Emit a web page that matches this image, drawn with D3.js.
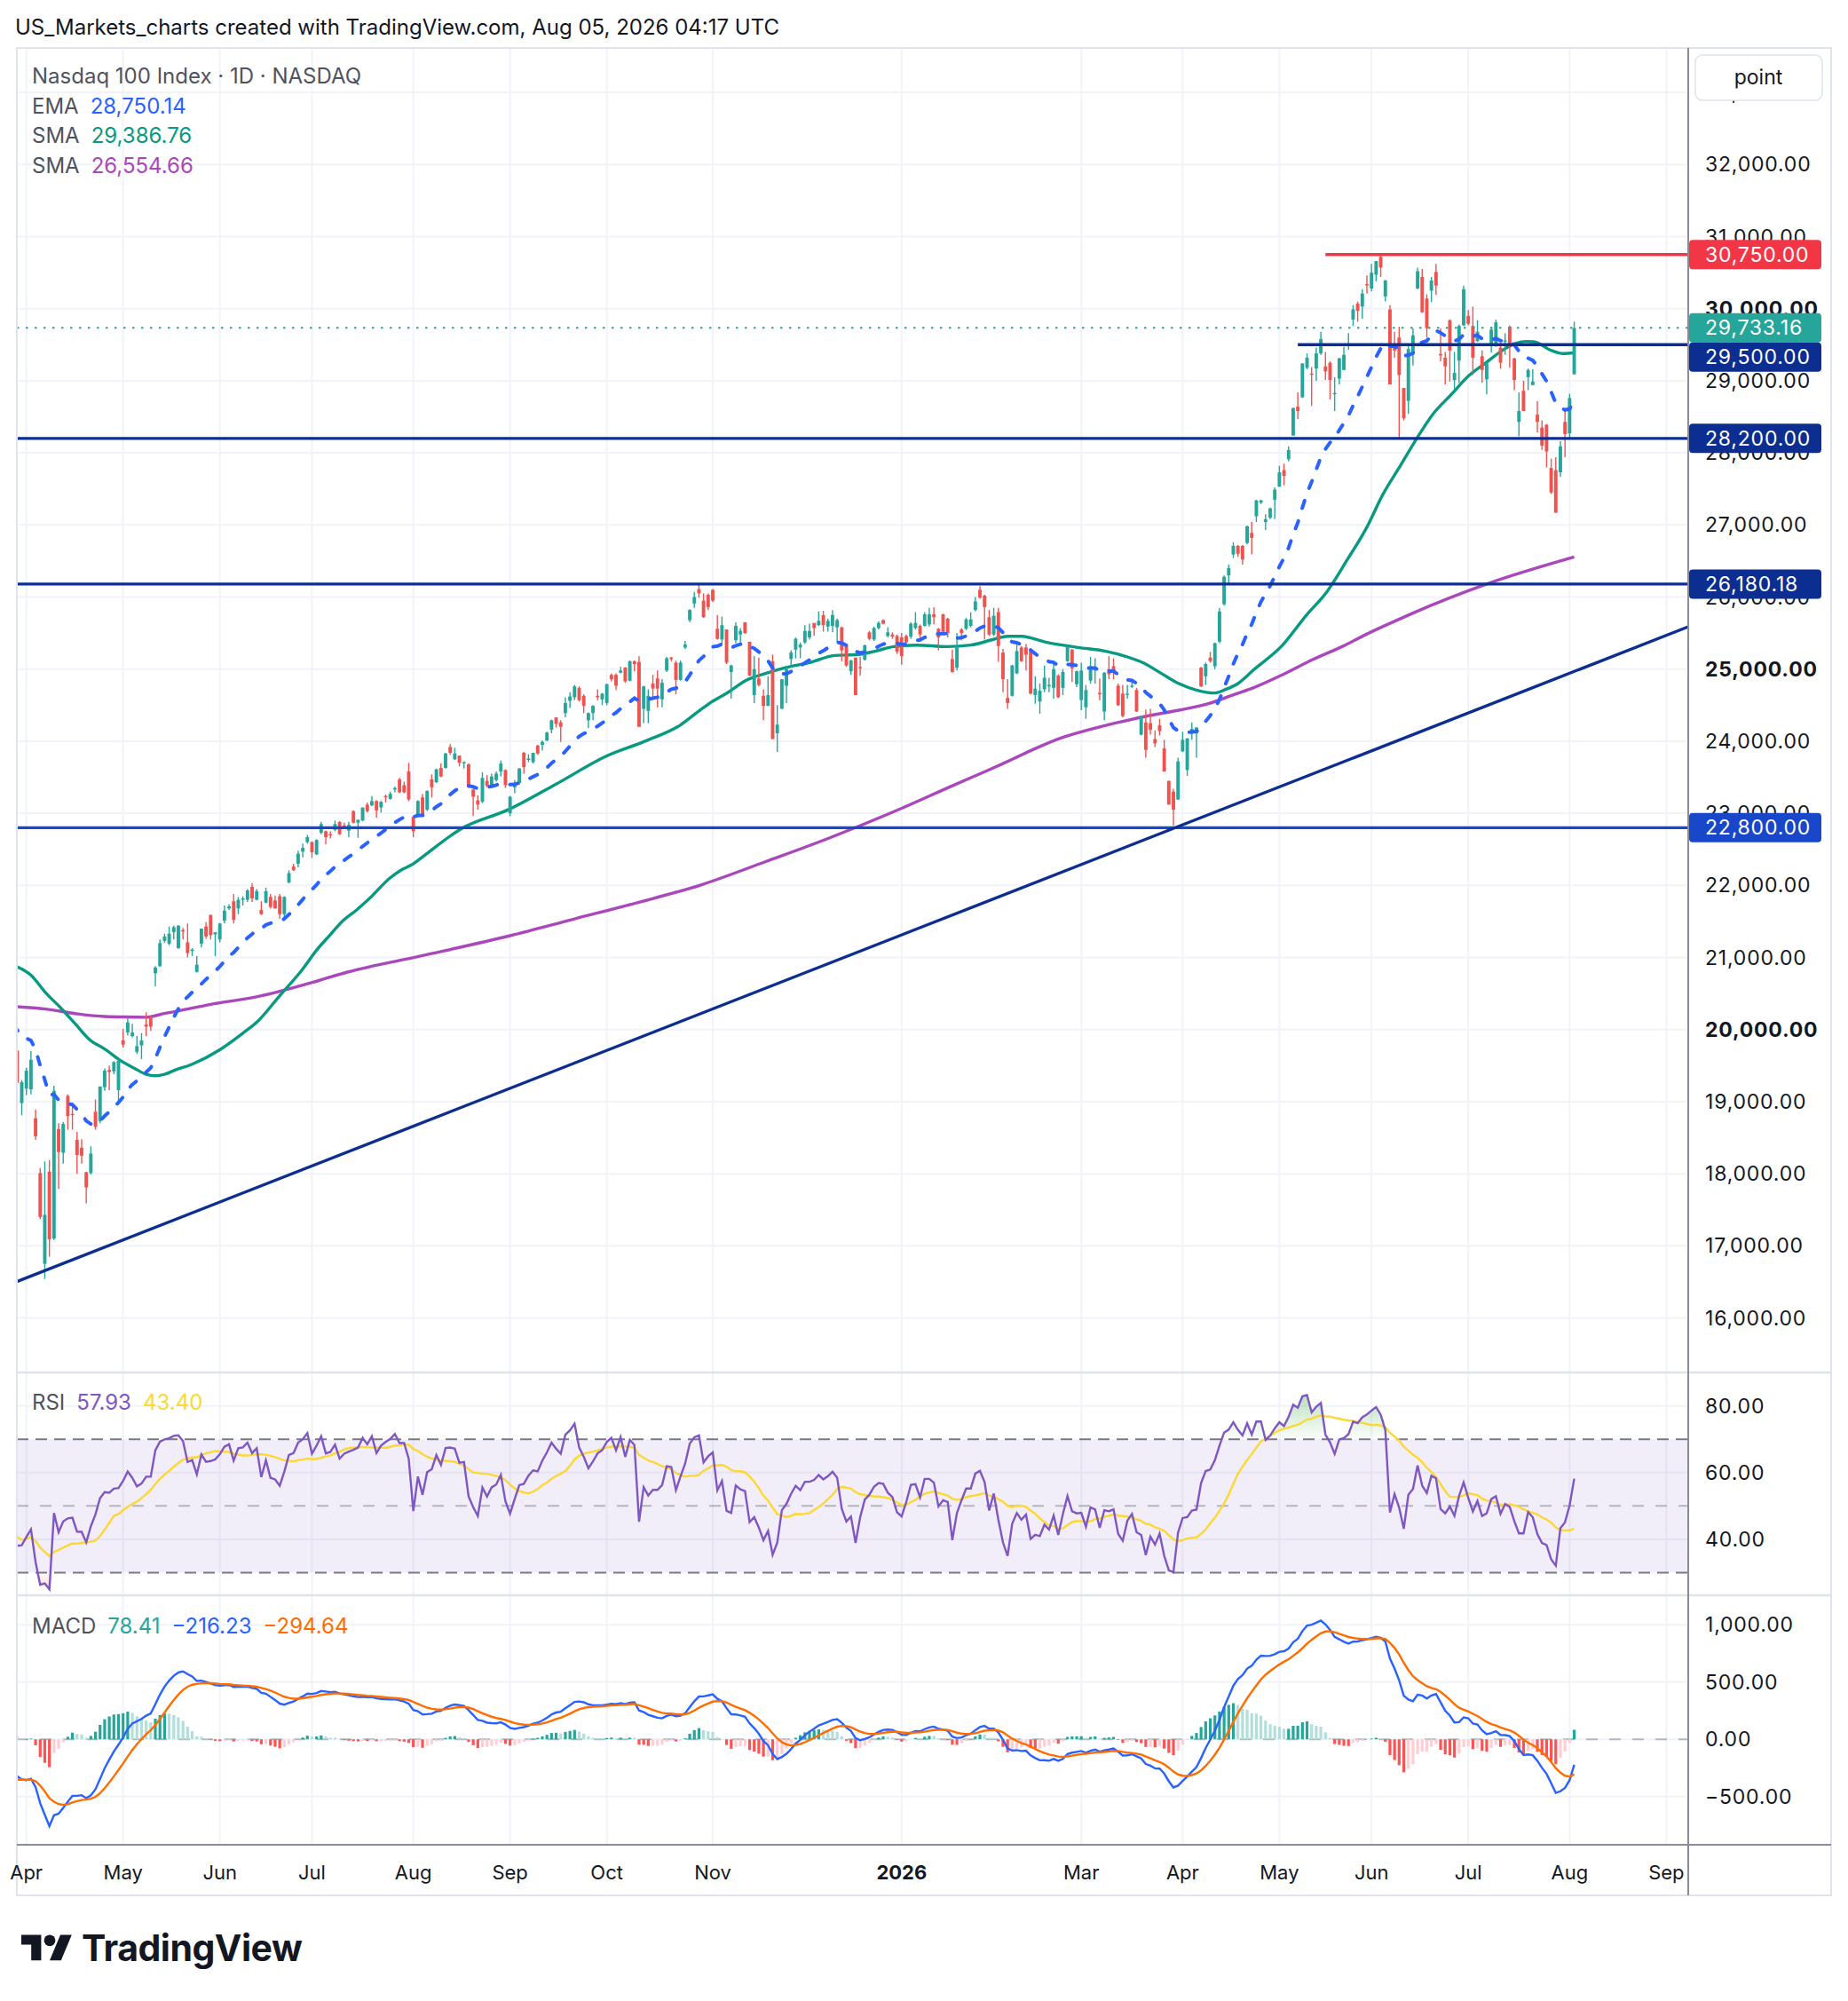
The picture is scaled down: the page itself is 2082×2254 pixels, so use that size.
<!DOCTYPE html>
<html lang="en">
<head>
  <meta charset="UTF-8" />
  <title>Nasdaq 100 Index · 1D · NASDAQ</title>
  <script src="https://d3js.org/d3.v7.min.js"></script>
  <style>
    body { margin: 0; background: #ffffff; }
    svg { display: block; }
    text { font-family: Inter, "Noto Sans", sans-serif; }
  </style>
</head>
<body>
  <svg id="chart" width="2082" height="2254"></svg>
  <script>
    // ---- data: market holidays (used to build the trading-day calendar) ----
    const holidays = ["2025-04-18", "2025-05-26", "2025-06-19", "2025-07-04", "2025-09-01",
      "2025-11-27", "2025-12-25", "2026-01-01", "2026-01-19", "2026-02-16", "2026-04-03",
      "2026-05-25", "2026-06-19", "2026-07-03", "2026-09-07"];

    // ---- daily candles [open, high, low, close], one array per month ----
    const mar2025 = [
      [19900, 20050, 19740, 19800], [19710, 19760, 19240, 19260], [18980, 19300, 18810, 19270]];
    const apr2025 = [
      [19180, 19470, 19090, 19430], [19170, 19700, 19100, 19580], [18770, 18890, 18470, 18520],
      [18010, 18080, 17370, 17400], [16750, 18170, 16540, 17430], [18030, 18190, 16850, 17090],
      [17100, 19220, 17080, 19150], [18620, 18700, 17790, 18300], [18290, 18720, 18140, 18690],
      [19080, 19100, 18610, 18800], [18830, 18980, 18610, 18820], [18470, 18580, 18000, 18260],
      [18360, 18480, 18140, 18250], [18020, 18030, 17590, 17810], [18010, 18380, 17990, 18280],
      [18860, 19030, 18610, 18650], [18730, 19210, 18700, 19210], [19200, 19460, 19150, 19430],
      [19440, 19500, 19160, 19410], [19420, 19560, 19380, 19550], [19160, 19580, 19010, 19570]];
    const may2025 = [
      [19850, 20010, 19750, 19790], [19960, 20170, 19920, 20100], [19910, 20080, 19890, 19960],
      [19690, 19910, 19660, 19770], [19780, 19950, 19590, 19850], [20070, 20240, 19910, 20040],
      [20170, 20190, 19980, 20040], [20780, 20880, 20600, 20860], [20880, 21250, 20870, 21200],
      [21230, 21330, 21200, 21290], [21190, 21430, 21170, 21330], [21350, 21440, 21250, 21420],
      [21130, 21450, 21120, 21440], [21380, 21410, 21250, 21360], [21210, 21470, 21000, 21060],
      [21090, 21130, 21020, 21110], [20800, 21020, 20790, 20900], [21190, 21400, 21140, 21400],
      [21430, 21490, 21260, 21290], [21590, 21590, 21250, 21310], [21320, 21350, 21020, 21350]];
    const jun2025 = [
      [21250, 21480, 21210, 21470], [21510, 21720, 21470, 21650], [21680, 21740, 21660, 21710],
      [21780, 21880, 21470, 21520], [21680, 21840, 21600, 21800], [21800, 21850, 21720, 21820],
      [21800, 21950, 21770, 21930], [21980, 22030, 21770, 21820], [21800, 21950, 21790, 21920],
      [21660, 21780, 21590, 21600], [21760, 21970, 21750, 21920], [21840, 21880, 21680, 21700],
      [21790, 21860, 21680, 21680], [21850, 21880, 21540, 21600], [21600, 21850, 21540, 21840],
      [22040, 22210, 22030, 22170], [22260, 22300, 22200, 22210], [22300, 22480, 22250, 22440],
      [22470, 22580, 22390, 22520], [22600, 22700, 22580, 22670]];
    const jul2025 = [
      [22600, 22610, 22380, 22460], [22430, 22640, 22420, 22630], [22730, 22880, 22710, 22850],
      [22750, 22760, 22570, 22670], [22710, 22750, 22650, 22700], [22770, 22900, 22750, 22850],
      [22880, 22890, 22700, 22710], [22830, 22870, 22780, 22800], [22760, 22880, 22670, 22840],
      [23030, 23040, 22860, 22870], [22870, 22910, 22660, 22910], [22900, 23080, 22890, 23080],
      [23120, 23150, 23010, 23030], [23110, 23240, 23100, 23170], [23170, 23180, 22940, 23040],
      [23080, 23170, 23010, 23160], [23240, 23260, 23150, 23220], [23200, 23300, 23190, 23270],
      [23330, 23370, 23290, 23350], [23470, 23490, 23280, 23290], [23390, 23440, 23280, 23290],
      [23580, 23700, 23170, 23190]];
    const aug2025 = [
      [22950, 22970, 22670, 22750], [22960, 23180, 22950, 23170], [23220, 23270, 22970, 22970],
      [23050, 23320, 23030, 23310], [23470, 23540, 23220, 23360], [23430, 23620, 23420, 23610],
      [23630, 23690, 23500, 23510], [23630, 23840, 23620, 23830], [23920, 23960, 23810, 23840],
      [23750, 23910, 23740, 23830], [23800, 23800, 23650, 23700], [23700, 23720, 23620, 23710],
      [23680, 23690, 23350, 23360], [23330, 23340, 22960, 23230], [23180, 23250, 23050, 23120],
      [23160, 23570, 23140, 23490], [23450, 23530, 23360, 23380], [23390, 23550, 23380, 23510],
      [23460, 23580, 23440, 23550], [23580, 23730, 23510, 23690], [23600, 23610, 23350, 23390]];
    const sep2025 = [
      [23000, 23240, 22960, 23230], [23360, 23460, 23280, 23420], [23420, 23630, 23400, 23620],
      [23840, 23850, 23550, 23640], [23740, 23820, 23710, 23760], [23710, 23840, 23690, 23840],
      [23940, 23950, 23810, 23830], [23950, 24010, 23870, 23990], [24010, 24130, 24000, 24120],
      [24160, 24300, 24110, 24290], [24330, 24330, 24190, 24240], [24260, 24290, 23990, 24200],
      [24390, 24610, 24330, 24530], [24560, 24680, 24460, 24620], [24610, 24780, 24570, 24760],
      [24740, 24760, 24550, 24570], [24630, 24650, 24390, 24490], [24290, 24400, 24180, 24390],
      [24390, 24500, 24290, 24490], [24630, 24720, 24570, 24610], [24580, 24670, 24500, 24660]];
    const oct2025 = [
      [24530, 24800, 24500, 24790], [24920, 24940, 24830, 24860], [24920, 24940, 24710, 24770],
      [24950, 25030, 24940, 24980], [25020, 25030, 24810, 24830], [24840, 25120, 24830, 25110],
      [25110, 25120, 24970, 25070], [25100, 25180, 24200, 24200], [24450, 24770, 24250, 24760],
      [24420, 24720, 24250, 24630], [24800, 24920, 24610, 24730], [24870, 24980, 24470, 24730],
      [24580, 24860, 24470, 24810], [24980, 25170, 24960, 25150], [25160, 25170, 25110, 25140],
      [25090, 25120, 24650, 24850], [24850, 25120, 24840, 25090], [25300, 25390, 25280, 25340],
      [25680, 25830, 25650, 25820], [25910, 26070, 25850, 26000], [26110, 26180, 25990, 26050],
      [25950, 26050, 25710, 25720], [26030, 26050, 25820, 25860]];
    const nov2025 = [
      [26100, 26110, 25930, 25950], [25560, 25750, 25410, 25420], [25410, 25730, 25350, 25610],
      [25550, 25550, 25070, 25090], [24960, 25060, 24590, 25050], [25400, 25650, 25360, 25600],
      [25480, 25570, 25370, 25530], [25650, 25650, 25490, 25500], [25380, 25380, 24900, 24910],
      [24640, 25180, 24530, 25000], [24870, 25160, 24760, 24780], [24630, 24720, 24290, 24490],
      [24490, 24900, 24490, 24640], [25110, 25200, 24030, 24030], [24110, 24500, 23850, 24230],
      [24450, 24860, 24450, 24860], [24770, 25050, 24530, 25000], [25140, 25260, 25040, 25230],
      [25270, 25440, 25150, 25420]];
    const dec2025 = [
      [25300, 25370, 25150, 25340], [25370, 25610, 25350, 25530], [25440, 25630, 25410, 25530],
      [25640, 25640, 25460, 25570], [25610, 25800, 25600, 25670], [25750, 25810, 25520, 25610],
      [25590, 25700, 25520, 25670], [25600, 25820, 25510, 25750], [25580, 25700, 25370, 25680],
      [25580, 25590, 25110, 25260], [25340, 25340, 25030, 25050], [24970, 25130, 24920, 25120],
      [25160, 25160, 24640, 24640], [25030, 25170, 24910, 25020], [25130, 25340, 25120, 25330],
      [25510, 25530, 25400, 25420], [25410, 25590, 25390, 25570], [25570, 25660, 25550, 25640],
      [25680, 25690, 25620, 25630], [25460, 25580, 25440, 25510], [25480, 25510, 25420, 25450],
      [25460, 25480, 25210, 25240]];
    const jan2026 = [
      [25440, 25500, 25060, 25180], [25460, 25480, 25360, 25370], [25450, 25650, 25420, 25630],
      [25570, 25790, 25550, 25640], [25600, 25620, 25400, 25480], [25600, 25790, 25590, 25760],
      [25620, 25850, 25590, 25760], [25760, 25860, 25620, 25720], [25560, 25570, 25260, 25440],
      [25760, 25770, 25500, 25520], [25700, 25710, 25440, 25500], [25140, 25270, 24950, 24960],
      [25020, 25500, 24980, 25310], [25550, 25570, 25400, 25500], [25560, 25710, 25540, 25690],
      [25600, 25790, 25580, 25690], [25820, 26000, 25800, 25940], [26100, 26150, 25980, 25990],
      [26020, 26030, 25410, 25860], [25720, 25820, 25460, 25480]];
    const feb2026 = [
      [25480, 25850, 25460, 25740], [25790, 25850, 25100, 25320], [25230, 25280, 24680, 24860],
      [24600, 24860, 24450, 24530], [24630, 25060, 24620, 25050], [24940, 25340, 24930, 25250],
      [25300, 25320, 25100, 25110], [25300, 25350, 24980, 25200], [25250, 25270, 24650, 24660],
      [24640, 24900, 24520, 24730], [24550, 24800, 24380, 24700], [24720, 25050, 24680, 24880],
      [24760, 24880, 24680, 24780], [24740, 25090, 24590, 25000], [24910, 24930, 24600, 24610],
      [24740, 25000, 24640, 24960], [25110, 25320, 25100, 25310], [25270, 25280, 24820, 25010],
      [24790, 24980, 24750, 24970]];
    const mar2026 = [
      [24570, 25090, 24430, 24980], [24470, 24780, 24310, 24710], [24840, 25170, 24800, 25040],
      [25000, 25150, 24800, 25000], [24670, 24870, 24570, 24650], [24410, 24960, 24290, 24950],
      [25000, 25180, 24860, 24930], [25040, 25150, 24860, 24960], [24770, 24800, 24490, 24500],
      [24660, 24780, 24330, 24350], [24650, 24780, 24590, 24660], [24760, 24860, 24740, 24770],
      [24710, 24740, 24410, 24410], [24090, 24350, 24080, 24350], [24260, 24440, 23770, 23880],
      [24250, 24450, 24090, 24160], [24030, 24150, 23920, 23970], [24220, 24310, 24080, 24140],
      [23900, 24020, 23580, 23580], [23450, 23450, 23120, 23120], [23300, 23340, 22830, 23050],
      [23190, 23770, 23190, 23720]];
    const apr2026 = [
      [23860, 24130, 23850, 24020], [23600, 24040, 23520, 24040], [24120, 24260, 24020, 24170],
      [24110, 24190, 23770, 24190], [25020, 25030, 24750, 24760], [24900, 25090, 24780, 25070],
      [25160, 25240, 25090, 25110], [25040, 25370, 25000, 25360], [25380, 25850, 25360, 25800],
      [25900, 26300, 25880, 26280], [26300, 26450, 26180, 26400], [26590, 26760, 26540, 26710],
      [26710, 26720, 26560, 26600], [26710, 26720, 26450, 26520], [26750, 26990, 26730, 26980],
      [26890, 27040, 26590, 26820], [27120, 27350, 27040, 27340], [27310, 27350, 27290, 27340],
      [27040, 27150, 26930, 27080], [27100, 27240, 27080, 27230], [27350, 27520, 27080, 27490]];
    const may2026 = [
      [27530, 27820, 27530, 27730], [27760, 27850, 27550, 27680], [27910, 28090, 27880, 28040],
      [28240, 28630, 28240, 28620], [28640, 28840, 28470, 28580], [28770, 29240, 28760, 29240],
      [29180, 29380, 29160, 29320], [29100, 29190, 28650, 29090], [29170, 29460, 29000, 29380],
      [29380, 29680, 29360, 29580], [29200, 29400, 29010, 29130], [29250, 29270, 28740, 29010],
      [28820, 29050, 28580, 28830], [29030, 29320, 28950, 29310], [29150, 29470, 29150, 29360],
      [29490, 29660, 29430, 29500], [29850, 30050, 29760, 29990], [30070, 30100, 29820, 29970],
      [30030, 30270, 29860, 30210], [30340, 30460, 30210, 30330]];
    const jun2026 = [
      [30280, 30620, 30240, 30500], [30470, 30660, 30380, 30660], [30720, 30750, 30440, 30570],
      [30170, 30400, 30100, 30390], [29990, 30050, 28950, 28950], [29500, 29680, 29320, 29420],
      [29600, 29750, 28210, 29080], [28900, 28900, 28450, 28480], [28720, 29480, 28540, 29440],
      [29370, 29730, 29210, 29630], [30280, 30570, 30270, 30520], [30440, 30550, 29940, 29950],
      [30140, 30200, 29600, 29730], [30250, 30440, 30090, 30390], [30510, 30620, 30190, 30320],
      [29370, 29730, 29270, 29350], [29320, 29400, 28950, 29200], [29840, 29850, 28990, 29420],
      [29010, 29400, 28880, 29110], [29280, 29780, 28970, 29760], [29770, 30320, 29760, 30270]];
    const jul2026 = [
      [29900, 29980, 29770, 29790], [29760, 30030, 29080, 29320], [29550, 29840, 29540, 29680],
      [29340, 29420, 28970, 29150], [29020, 29250, 28810, 29240], [29480, 29750, 29390, 29710],
      [29480, 29850, 29470, 29810], [29460, 29530, 29170, 29250], [29550, 29660, 29360, 29560],
      [29750, 29770, 29180, 29470], [29310, 29320, 28870, 29010], [28430, 28840, 28230, 28580],
      [28860, 29000, 28580, 28580], [29050, 29170, 28870, 29150], [28940, 29160, 28940, 28990],
      [28530, 28720, 28280, 28430], [28350, 28450, 28040, 28100], [28390, 28400, 27800, 28020],
      [27790, 27920, 27430, 27450], [27760, 27940, 27170, 27170], [27730, 28160, 27670, 28090],
      [28430, 28600, 27940, 28260]];
    const aug2026 = [
      [28270, 28820, 28200, 28760], [29090, 29820, 29090, 29733.16]];

    // moving averages: [bar number from first candle, value]
    const sma50Points = [
      [0.7, 20880], [4, 20755], [7.2, 20510], [10.4, 20305], [13.6, 20080], [16.8, 19855],
      [20, 19730], [23.2, 19580], [26.4, 19465], [29, 19380], [31, 19360], [33, 19380],
      [35.4, 19440], [39, 19520], [45, 19720], [50, 19950], [53, 20100], [58, 20470],
      [62.5, 20800], [66.3, 21125], [68.9, 21310], [71.5, 21495], [74.7, 21660], [77.9, 21845],
      [81.7, 22090], [84.3, 22210], [86.9, 22295], [88.8, 22385], [97.5, 22790], [107.8, 23055],
      [118, 23405], [129, 23795], [137.3, 24000], [145, 24225], [148.8, 24410], [151.4, 24530],
      [155.3, 24676], [159.1, 24840], [163.6, 24943], [168.1, 25025], [173.3, 25095],
      [178.4, 25189], [183.5, 25202], [187.4, 25251], [191.3, 25312], [196.4, 25333],
      [202.8, 25312], [208, 25333], [213.1, 25415], [216, 25456], [219, 25456], [224.3, 25374],
      [231.3, 25300], [237.1, 25250], [241.6, 25177], [245.5, 25086], [249.3, 24943],
      [253.2, 24799], [257, 24709], [260.9, 24668], [263.4, 24720], [266, 24800], [269.3, 24984],
      [275.7, 25333], [280.8, 25744], [285.3, 26072], [289.8, 26524], [293.7, 26934],
      [297.5, 27427], [301.4, 27837], [304.2, 28135], [308.3, 28535], [312.2, 28802],
      [316.1, 29069], [319.9, 29253], [323.8, 29438], [326.4, 29520], [328.5, 29545],
      [330.2, 29541], [334.1, 29418], [336.6, 29377], [339, 29387]];
    const sma200Points = [
      [0.7, 20317], [7.2, 20284], [13.6, 20222], [20, 20181], [26.4, 20173], [29, 20170],
      [32.9, 20222], [35.4, 20251], [43, 20350], [52.7, 20450], [66.5, 20680], [72.7, 20797],
      [88.8, 21023], [108, 21302], [122, 21535], [135.8, 21763], [149.6, 22010], [163.5, 22330],
      [177.4, 22660], [191.2, 23020], [205, 23410], [211.5, 23590], [215, 23690], [218.2, 23785],
      [221.4, 23880], [227.4, 24040], [233.9, 24163], [240.3, 24265], [246.8, 24356],
      [253.2, 24430], [259.6, 24520], [265.3, 24650], [269.3, 24740], [275.7, 24923],
      [282.1, 25128], [288.6, 25312], [295, 25518], [301.4, 25703], [304, 25777], [320, 26180],
      [339, 26555]];

    // indicator state before the first candle (EMA 20, MACD 12/26/9, RSI 14)
    const emaSeed = 20070;
    const macdSeeds = [20050, 20330, -360];
    const rsiSeeds = [130, 170];

    // drawings
    const levelValues = [30750, 29500, 28200, 26180.18, 22800];
    const levelStarts = ["2026-05-15", "2026-05-07", null, null, null];
    const trendDates = ["2025-03-28", "2026-03-30"];
    const trendValues = [16506, 22790];

    // legend values as shown
    const maLegend = [28750.14, 29386.76, 26554.66];
    const rsiLegend = [57.93, 43.40];
    const macdLegend = [78.41, -216.23, -294.64];
    const titleText = "US_Markets_charts created with TradingView.com, Aug 05, 2026 04:17 UTC";

    // ---- calendar ----
    function tradingDays(start, end) {
      const out = [];
      const d = new Date(start + "T00:00:00Z");
      const stop = new Date(end + "T00:00:00Z");
      while (d <= stop) {
        const iso = d.toISOString().slice(0, 10);
        const wd = d.getUTCDay();
        if (wd !== 0 && wd !== 6 && !holidays.includes(iso)) out.push(new Date(d));
        d.setUTCDate(d.getUTCDate() + 1);
      }
      return out;
    }
    const days = tradingDays("2025-03-27", "2026-09-30");
    const dayIndex = iso => days.findIndex(d => d.toISOString().slice(0, 10) === iso);

    const rows = [].concat(mar2025, apr2025, may2025, jun2025, jul2025, aug2025, sep2025, oct2025,
      nov2025, dec2025, jan2026, feb2026, mar2026, apr2026, may2026, jun2026, jul2026, aug2026);
    const candles = rows.map((r, k) => ({ k, date: days[k], o: r[0], h: r[1], l: r[2], c: r[3] }));
    const closes = candles.map(d => d.c);
    const lastClose = closes[closes.length - 1];

    // ---- indicators ----
    const ema20 = [];
    let e = emaSeed;
    closes.forEach((c, k) => { if (k > 0) e += (c - e) * 2 / 21; ema20.push([k, e]); });

    const macd = [];
    let fast = macdSeeds[0], slow = macdSeeds[1], sig = macdSeeds[2];
    closes.forEach((c, k) => {
      if (k > 0) { fast += (c - fast) * 2 / 13; slow += (c - slow) * 2 / 27; }
      const m = fast - slow;
      if (k > 0) sig += (m - sig) * 2 / 10;
      macd.push({ k, m, s: sig, h: m - sig });
    });
    macd.forEach((d, k) => {
      const prev = k ? macd[k - 1].h : d.h;
      d.color = d.h >= 0 ? (d.h >= prev ? "#26a69a" : "#b2dfdb") : (d.h <= prev ? "#ff5252" : "#ffcdd2");
    });

    let avgGain = rsiSeeds[0], avgLoss = rsiSeeds[1];
    const rsi = closes.map((c, k) => {
      if (k > 0) {
        const ch = c - closes[k - 1];
        avgGain = (avgGain * 13 + Math.max(ch, 0)) / 14;
        avgLoss = (avgLoss * 13 + Math.max(-ch, 0)) / 14;
      }
      return 100 - 100 / (1 + avgGain / avgLoss);
    });
    const rsiMa = rsi.map((v, k) => d3.mean(rsi.slice(Math.max(0, k - 13), k + 1)));

    // ---- layout ----
    const svg = d3.select("#chart");
    const frame = { left: 19, right: 2063, top: 54, bottom: 2135 };
    const plotRight = 1902;
    const pane = { price: [54, 1546], rsi: [1546, 1797], macd: [1797, 2078] };
    const axisX = 1921;
    const UP = "#26a69a", DOWN = "#ef5350", NAVY = "#0d2e91", BRIGHT = "#1947c9", RED = "#f23645";
    const GRID = "#f0f3fa", BORDER = "#e0e3eb", SCALE = "#8a8d97", TXT = "#131722";

    svg.append("rect").attr("width", 2082).attr("height", 2254).attr("fill", "#fff");

    const x = d3.scaleLinear().domain([0.94, 363.75]).range([frame.left, plotRight]);
    const yP = d3.scaleLinear().domain([15243, 33617]).range([pane.price[1], pane.price[0]]);
    const yR = d3.scaleLinear().domain([23.2, 90.05]).range([pane.rsi[1], pane.rsi[0]]);
    const yM = d3.scaleLinear().domain([-920, 1257]).range([pane.macd[1], pane.macd[0]]);

    const defs = svg.append("defs");
    function clip(id, y0, y1) {
      defs.append("clipPath").attr("id", id).append("rect")
        .attr("x", frame.left).attr("y", y0).attr("width", plotRight - frame.left).attr("height", y1 - y0);
    }
    clip("clipPrice", pane.price[0], pane.price[1]);
    clip("clipRsi", pane.rsi[0], pane.rsi[1]);
    clip("clipMacd", pane.macd[0], pane.macd[1]);

    const gUp = defs.append("linearGradient").attr("id", "rsiUp").attr("gradientUnits", "userSpaceOnUse")
      .attr("x1", 0).attr("x2", 0).attr("y1", yR(86)).attr("y2", yR(70));
    gUp.append("stop").attr("offset", 0).attr("stop-color", "#4caf50").attr("stop-opacity", 0.45);
    gUp.append("stop").attr("offset", 1).attr("stop-color", "#4caf50").attr("stop-opacity", 0.02);
    const gDn = defs.append("linearGradient").attr("id", "rsiDown").attr("gradientUnits", "userSpaceOnUse")
      .attr("x1", 0).attr("x2", 0).attr("y1", yR(30)).attr("y2", yR(20));
    gDn.append("stop").attr("offset", 0).attr("stop-color", "#f23645").attr("stop-opacity", 0.02);
    gDn.append("stop").attr("offset", 1).attr("stop-color", "#f23645").attr("stop-opacity", 0.4);

    // ---- time ticks ----
    const monthTicks = [];
    days.forEach((d, k) => {
      if (k > 0 && d.getUTCMonth() !== days[k - 1].getUTCMonth())
        monthTicks.push({ k, d, year: d.getUTCMonth() === 0 });
    });
    const shownTicks = monthTicks
      .filter((t, j) => t.year || !((monthTicks[j - 1] || {}).year || (monthTicks[j + 1] || {}).year))
      .filter(t => x(t.k) > frame.left && x(t.k) < plotRight);

    // ---- grid ----
    const grid = svg.append("g");
    grid.selectAll("line.v").data(shownTicks).join("line")
      .attr("x1", t => x(t.k)).attr("x2", t => x(t.k))
      .attr("y1", pane.price[0]).attr("y2", pane.macd[1])
      .attr("stroke", GRID).attr("stroke-width", 2);
    const priceTicks = d3.range(16000, 33001, 1000);
    grid.selectAll("line.p").data(priceTicks).join("line")
      .attr("x1", frame.left).attr("x2", plotRight).attr("y1", yP).attr("y2", yP)
      .attr("stroke", GRID).attr("stroke-width", 2);
    const rsiTicks = [80, 60, 40];
    grid.selectAll("line.r").data(rsiTicks).join("line")
      .attr("x1", frame.left).attr("x2", plotRight).attr("y1", yR).attr("y2", yR)
      .attr("stroke", GRID).attr("stroke-width", 2);
    const macdTicks = [1000, 500, 0, -500];
    grid.selectAll("line.m").data(macdTicks).join("line")
      .attr("x1", frame.left).attr("x2", plotRight).attr("y1", yM).attr("y2", yM)
      .attr("stroke", GRID).attr("stroke-width", 2);

    // ---- price pane ----
    const pg = svg.append("g").attr("clip-path", "url(#clipPrice)");
    const maLine = d3.line().x(d => x(d[0])).y(d => yP(d[1])).curve(d3.curveMonotoneX);

    pg.append("path").datum(sma200Points).attr("d", maLine)
      .attr("fill", "none").attr("stroke", "#ab47bc").attr("stroke-width", 3.4);
    pg.append("path").datum(sma50Points).attr("d", maLine)
      .attr("fill", "none").attr("stroke", "#089981").attr("stroke-width", 3.4);

    const bw = 3.9;
    pg.selectAll("line.wick").data(candles).join("line")
      .attr("x1", d => x(d.k)).attr("x2", d => x(d.k))
      .attr("y1", d => yP(d.h)).attr("y2", d => yP(d.l))
      .attr("stroke", d => d.c >= d.o ? UP : DOWN).attr("stroke-width", 1.4);
    pg.selectAll("rect.body").data(candles).join("rect")
      .attr("x", d => x(d.k) - bw / 2).attr("width", bw)
      .attr("y", d => yP(Math.max(d.o, d.c)))
      .attr("height", d => Math.max(1.4, Math.abs(yP(d.o) - yP(d.c))))
      .attr("fill", d => d.c >= d.o ? UP : DOWN);

    pg.append("path").datum(ema20).attr("d", d3.line().x(d => x(d[0])).y(d => yP(d[1])))
      .attr("fill", "none").attr("stroke", "#2962ff").attr("stroke-width", 4)
      .attr("stroke-linecap", "round").attr("stroke-dasharray", "9,15");

    // last price dotted line
    pg.append("line").attr("x1", frame.left).attr("x2", plotRight)
      .attr("y1", yP(lastClose)).attr("y2", yP(lastClose))
      .attr("stroke", UP).attr("stroke-width", 2).attr("stroke-dasharray", "2.5,7.5");

    // horizontal levels
    const levelColor = [RED, NAVY, NAVY, NAVY, BRIGHT];
    levelValues.forEach((v, j) => {
      const x0 = levelStarts[j] ? x(dayIndex(levelStarts[j])) : frame.left;
      pg.append("line").attr("x1", x0).attr("x2", plotRight).attr("y1", yP(v)).attr("y2", yP(v))
        .attr("stroke", levelColor[j]).attr("stroke-width", 3.4);
    });

    // trend line, extended to both edges
    const tk0 = dayIndex(trendDates[0]), tk1 = dayIndex(trendDates[1]);
    const slope = (trendValues[1] - trendValues[0]) / (tk1 - tk0);
    const kL = x.invert(frame.left), kR = x.invert(plotRight);
    pg.append("line")
      .attr("x1", frame.left).attr("y1", yP(trendValues[0] + (kL - tk0) * slope))
      .attr("x2", plotRight).attr("y2", yP(trendValues[0] + (kR - tk0) * slope))
      .attr("stroke", NAVY).attr("stroke-width", 3.4);

    // ---- RSI pane ----
    const rg = svg.append("g").attr("clip-path", "url(#clipRsi)");
    rg.append("rect").attr("x", frame.left).attr("width", plotRight - frame.left)
      .attr("y", yR(70)).attr("height", yR(30) - yR(70)).attr("fill", "rgba(126,87,194,0.1)");
    [70, 30].forEach(v => rg.append("line").attr("x1", frame.left).attr("x2", plotRight)
      .attr("y1", yR(v)).attr("y2", yR(v)).attr("stroke", "#787b86").attr("stroke-width", 2)
      .attr("stroke-dasharray", "13,8"));
    rg.append("line").attr("x1", frame.left).attr("x2", plotRight).attr("y1", yR(50)).attr("y2", yR(50))
      .attr("stroke", "#787b86").attr("stroke-opacity", 0.5).attr("stroke-width", 2)
      .attr("stroke-dasharray", "13,13");
    rg.append("path").datum(rsi)
      .attr("d", d3.area().x((d, k) => x(k)).y0(yR(70)).y1(d => yR(Math.max(d, 70))))
      .attr("fill", "url(#rsiUp)");
    rg.append("path").datum(rsi)
      .attr("d", d3.area().x((d, k) => x(k)).y0(yR(30)).y1(d => yR(Math.min(d, 30))))
      .attr("fill", "url(#rsiDown)");
    rg.append("path").datum(rsiMa).attr("d", d3.line().x((d, k) => x(k)).y(d => yR(d)))
      .attr("fill", "none").attr("stroke", "#fdd835").attr("stroke-width", 2.4);
    rg.append("path").datum(rsi).attr("d", d3.line().x((d, k) => x(k)).y(d => yR(d)))
      .attr("fill", "none").attr("stroke", "#7e57c2").attr("stroke-width", 2.4);

    // ---- MACD pane ----
    const mg = svg.append("g").attr("clip-path", "url(#clipMacd)");
    mg.append("line").attr("x1", frame.left).attr("x2", plotRight).attr("y1", yM(0)).attr("y2", yM(0))
      .attr("stroke", "#787b86").attr("stroke-opacity", 0.5).attr("stroke-width", 2)
      .attr("stroke-dasharray", "13,13");
    const hw = 3.2;
    mg.selectAll("rect.hist").data(macd).join("rect")
      .attr("x", d => x(d.k) - hw / 2).attr("width", hw)
      .attr("y", d => Math.min(yM(0), yM(d.h))).attr("height", d => Math.abs(yM(d.h) - yM(0)))
      .attr("fill", d => d.color);
    mg.append("path").datum(macd).attr("d", d3.line().x(d => x(d.k)).y(d => yM(d.m)))
      .attr("fill", "none").attr("stroke", "#2962ff").attr("stroke-width", 2.4);
    mg.append("path").datum(macd).attr("d", d3.line().x(d => x(d.k)).y(d => yM(d.s)))
      .attr("fill", "none").attr("stroke", "#ff6d00").attr("stroke-width", 2.4);

    // ---- frame & separators ----
    svg.append("rect").attr("x", frame.left).attr("y", frame.top)
      .attr("width", frame.right - frame.left).attr("height", frame.bottom - frame.top)
      .attr("fill", "none").attr("stroke", BORDER).attr("stroke-width", 2);
    [pane.rsi[0], pane.macd[0]].forEach(y => svg.append("line")
      .attr("x1", frame.left).attr("x2", frame.right).attr("y1", y).attr("y2", y)
      .attr("stroke", BORDER).attr("stroke-width", 2.5));
    svg.append("line").attr("x1", frame.left).attr("x2", frame.right)
      .attr("y1", pane.macd[1]).attr("y2", pane.macd[1]).attr("stroke", SCALE).attr("stroke-width", 2);
    svg.append("line").attr("x1", plotRight).attr("x2", plotRight)
      .attr("y1", frame.top).attr("y2", frame.bottom).attr("stroke", SCALE).attr("stroke-width", 2);

    // ---- axis labels ----
    const f2 = d3.format(",.2f");
    const axisText = (sel, y) => sel.attr("x", axisX).attr("y", y).attr("dy", "0.35em")
      .attr("font-size", 23).attr("letter-spacing", 0.8).attr("fill", TXT);
    svg.append("g").selectAll("text").data(priceTicks).join("text")
      .call(axisText, d => yP(d)).attr("font-weight", d => d % 5000 === 0 ? 700 : 400).text(f2);
    svg.append("g").selectAll("text").data(rsiTicks).join("text").call(axisText, d => yR(d)).text(f2);
    svg.append("g").selectAll("text").data(macdTicks).join("text").call(axisText, d => yM(d)).text(f2);

    svg.append("g").selectAll("text").data(shownTicks).join("text")
      .attr("x", t => x(t.k)).attr("y", 2109).attr("dy", "0.35em").attr("text-anchor", "middle")
      .attr("font-size", 22).attr("fill", TXT).attr("font-weight", t => t.year ? 700 : 400)
      .text(t => t.year ? d3.utcFormat("%Y")(t.d) : d3.utcFormat("%b")(t.d));

    // "point" box
    svg.append("rect").attr("x", 1910).attr("y", 62).attr("width", 143).attr("height", 51).attr("rx", 8)
      .attr("fill", "#fff").attr("stroke", BORDER).attr("stroke-width", 1.5);
    svg.append("text").attr("x", 1981).attr("y", 87).attr("dy", "0.35em").attr("text-anchor", "middle")
      .attr("font-size", 23).attr("fill", TXT).text("point");

    // price tags on the axis (pushed apart when they overlap)
    const tagH = 33;
    const tags = [
      { v: levelValues[0], bg: RED }, { v: lastClose, bg: UP }, { v: levelValues[1], bg: NAVY },
      { v: levelValues[2], bg: NAVY }, { v: levelValues[3], bg: NAVY }, { v: levelValues[4], bg: BRIGHT }
    ].map(t => ({ ...t, y: yP(t.v) })).sort((a, b) => a.y - b.y);
    let prevBottom = -Infinity;
    tags.forEach(t => {
      t.top = Math.max(t.y - tagH / 2, prevBottom);
      prevBottom = t.top + tagH;
    });
    const tg = svg.append("g").selectAll("g").data(tags).join("g");
    tg.append("rect").attr("x", plotRight + 1).attr("y", t => t.top).attr("width", 149).attr("height", tagH)
      .attr("rx", 4).attr("fill", t => t.bg);
    tg.append("text").call(axisText, t => t.top + tagH / 2).attr("fill", "#fff").text(t => f2(t.v));

    // ---- legends ----
    svg.append("text").attr("x", 17).attr("y", 31).attr("dy", "0.35em")
      .attr("font-size", 24).attr("fill", TXT).text(titleText);

    const legend = (y, parts) => {
      let lx = 36;
      parts.forEach(([txt, color]) => {
        const t = svg.append("text").attr("x", lx).attr("y", y).attr("dy", "0.35em")
          .attr("font-size", 24).attr("fill", color).text(txt);
        lx += t.node().getComputedTextLength() + 13;
      });
    };
    const GRAYTXT = "#50535e";
    legend(86, [["Nasdaq 100 Index · 1D · NASDAQ", GRAYTXT]]);
    legend(120, [["EMA", GRAYTXT], [f2(maLegend[0]), "#2962ff"]]);
    legend(153, [["SMA", GRAYTXT], [f2(maLegend[1]), "#089981"]]);
    legend(187, [["SMA", GRAYTXT], [f2(maLegend[2]), "#ab47bc"]]);
    legend(1580, [["RSI", GRAYTXT], [f2(rsiLegend[0]), "#7e57c2"], [f2(rsiLegend[1]), "#fdd835"]]);
    legend(1832, [["MACD", GRAYTXT], [f2(macdLegend[0]), "#26a69a"], [f2(macdLegend[1]), "#2962ff"],
      [f2(macdLegend[2]), "#ff6d00"]]);

    // ---- TradingView mark ----
    const logo = svg.append("g").attr("transform", "translate(24,2173) scale(1.6)");
    logo.append("path").attr("d", "M14 22H7V11H0V4h14v18zM28 22h-8l7.5-18h8L28 22z").attr("fill", TXT);
    logo.append("circle").attr("cx", 20).attr("cy", 8).attr("r", 4).attr("fill", TXT);
    svg.append("text").attr("x", 92).attr("y", 2209).attr("font-size", 41).attr("font-weight", 700)
      .attr("letter-spacing", -0.5).attr("fill", TXT).text("TradingView");
  </script>
</body>
</html>
